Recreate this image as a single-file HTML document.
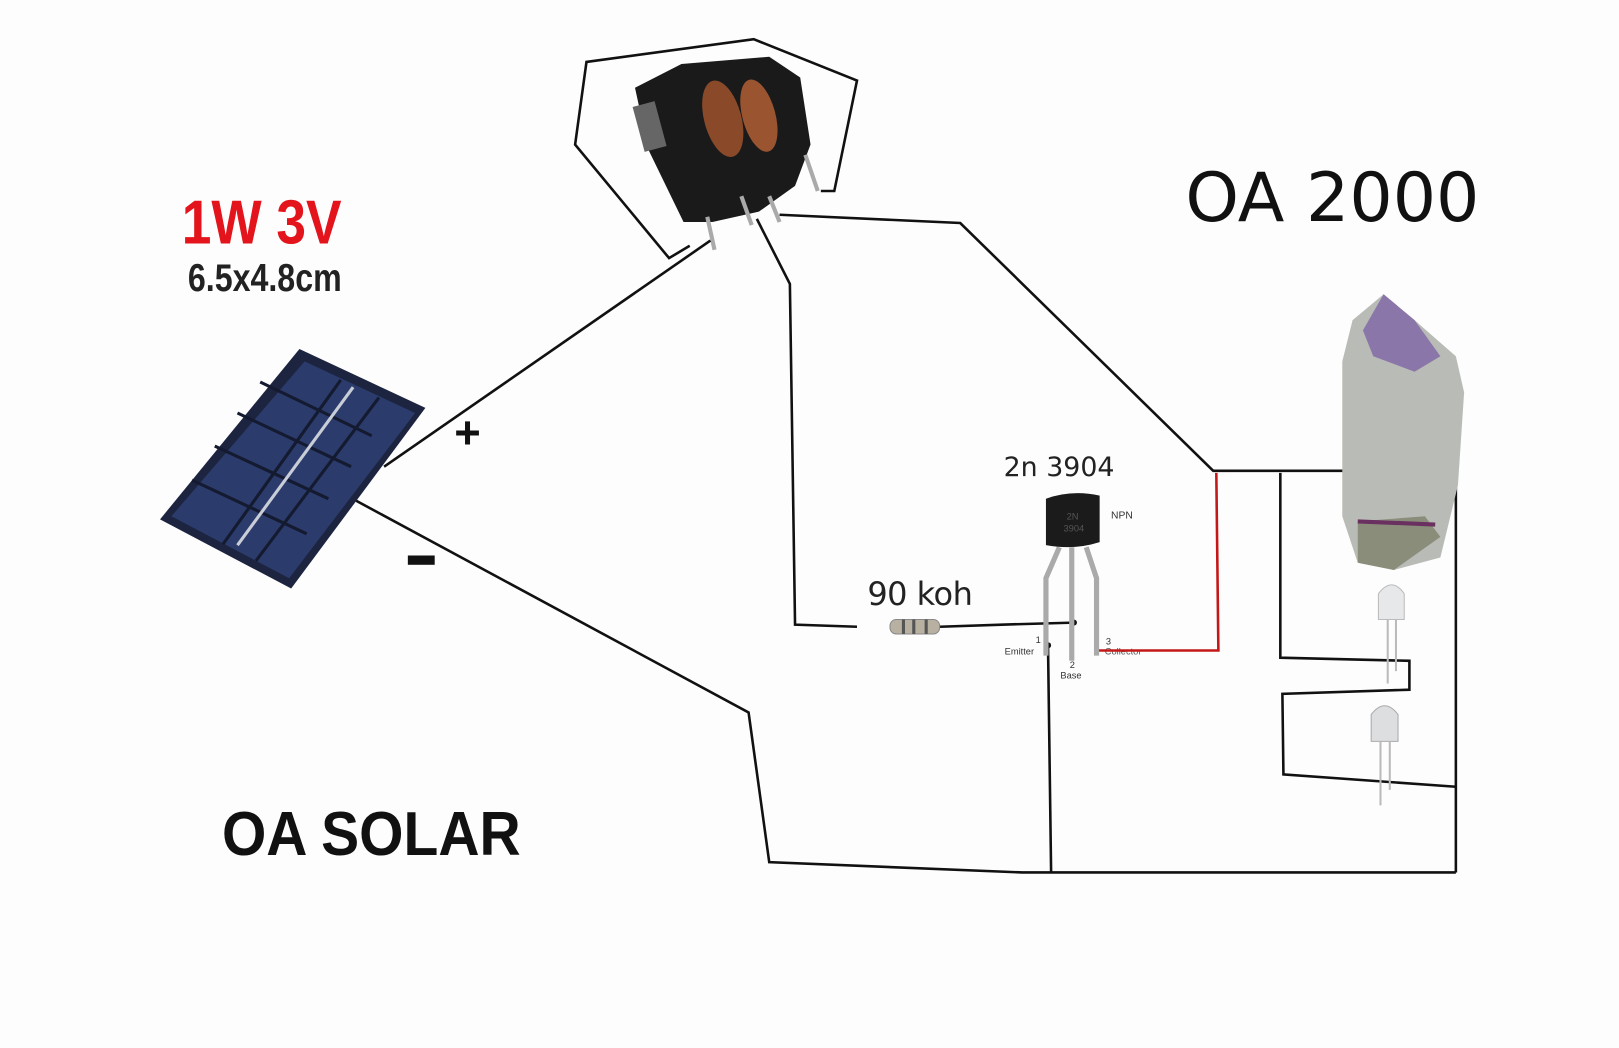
<!DOCTYPE html>
<html><head><meta charset="utf-8"><style>
html,body{margin:0;padding:0;background:#fdfdfd;}
svg{display:block}
</style></head><body>
<svg width="1619" height="1048" viewBox="0 0 1568 1015" preserveAspectRatio="none" xmlns="http://www.w3.org/2000/svg">
<rect width="1568" height="1015" fill="#fdfdfd"/>
<!-- texts -->
<text x="176" y="236" font-family="Liberation Sans Narrow, Liberation Sans, sans-serif" font-weight="bold" font-size="60" fill="#e3141b" transform="translate(176 236) scale(0.86 1) translate(-176 -236)">1W 3V</text>
<text x="182" y="282" font-family="Liberation Sans Narrow, Liberation Sans, sans-serif" font-size="38" font-weight="bold" fill="#222" transform="translate(182 282) scale(0.82 1) translate(-182 -282)">6.5x4.8cm</text>
<text x="440" y="434" font-family="Liberation Sans, sans-serif" font-weight="bold" font-size="44" fill="#111">+</text>
<rect x="395" y="538" width="26" height="9" fill="#111"/>
<text x="215" y="828" font-family="Liberation Sans, sans-serif" font-weight="bold" font-size="60" fill="#111" transform="translate(215 828) scale(0.92 1) translate(-215 -828)">OA SOLAR</text>
<text x="1148" y="214" font-family="DejaVu Sans, sans-serif" font-size="66" fill="#111">OA 2000</text>
<text x="972" y="461" font-family="DejaVu Sans, sans-serif" font-size="26" fill="#222">2n 3904</text>
<text x="840" y="586" font-family="DejaVu Sans, sans-serif" font-size="31" fill="#222" letter-spacing="-0.5">90 koh</text>
<text x="1076" y="502" font-family="Liberation Sans, sans-serif" font-size="10" fill="#333">NPN</text>
<text x="1003" y="623" font-family="Liberation Sans, sans-serif" font-size="9" fill="#333">1</text>
<text x="973" y="634" font-family="Liberation Sans, sans-serif" font-size="9" fill="#333">Emitter</text>
<text x="1036" y="647" font-family="Liberation Sans, sans-serif" font-size="9" fill="#333">2</text>
<text x="1027" y="657" font-family="Liberation Sans, sans-serif" font-size="9" fill="#333">Base</text>
<text x="1071" y="624" font-family="Liberation Sans, sans-serif" font-size="9" fill="#333">3</text>
<text x="1070" y="634" font-family="Liberation Sans, sans-serif" font-size="9" fill="#555">Collector</text>

<!-- solar panel -->
<polygon points="290,338 412,395 282,570 155,503" fill="#1c2440"/>
<polygon points="295,350 402,400 280,560 166,500" fill="#2b3b6b"/>
<g stroke="#141a30" stroke-width="3">
<line x1="330" y1="368" x2="216" y2="527"/><line x1="367" y1="385" x2="248" y2="543"/>
<line x1="252" y1="370" x2="360" y2="422"/><line x1="230" y1="400" x2="340" y2="452"/>
<line x1="208" y1="432" x2="318" y2="483"/><line x1="186" y1="465" x2="297" y2="517"/>
</g>
<line x1="342" y1="375" x2="230" y2="528" stroke="#c8cdd8" stroke-width="3"/>

<!-- transformer outline -->
<polyline points="668,238 648,250 557,140 568,60 730,38 830,78 808,185 795,185" fill="none" stroke="#111" stroke-width="2.5"/>
<!-- transformer body -->
<polygon points="615,85 660,62 745,55 775,75 785,140 770,180 735,205 690,215 662,215 628,145" fill="#1a1a1a"/>
<rect x="618" y="100" width="22" height="45" fill="#666" transform="rotate(-15 629 122)"/>
<ellipse cx="700" cy="115" rx="18" ry="38" fill="#8a4a2a" transform="rotate(-15 700 115)"/>
<ellipse cx="735" cy="112" rx="16" ry="36" fill="#9a5530" transform="rotate(-15 735 112)"/>
<g stroke="#aaa" stroke-width="4">
<line x1="685" y1="210" x2="692" y2="242"/><line x1="718" y1="190" x2="728" y2="218"/>
<line x1="745" y1="190" x2="755" y2="215"/><line x1="780" y1="150" x2="792" y2="185"/>
</g>

<!-- wires -->
<g fill="none" stroke="#111" stroke-width="2.5">
<polyline points="372,452 688,233"/>
<polyline points="345,485 725,690 745,835 990,845 1410,845"/>
<polyline points="755,208 930,216 1175,456 1410,456"/>
<polyline points="733,212 765,275 770,605 830,607"/>
<polyline points="910,607 970,605 1040,603"/>
<polyline points="1015,625 1018,845"/>
<polyline points="1240,458 1240,637 1365,640 1365,668 1242,672 1243,750 1410,762"/>
<polyline points="1410,456 1410,845"/>
</g>
<polyline points="1178,458 1180,630 1060,630" fill="none" stroke="#c41818" stroke-width="2.5"/>
<circle cx="1040" cy="603" r="3" fill="#111"/>
<circle cx="1015" cy="625" r="3" fill="#111"/>

<!-- resistor -->
<rect x="862" y="600" width="48" height="14" rx="6" fill="#b8b0a0" stroke="#888"/>
<g stroke="#555" stroke-width="3"><line x1="875" y1="600" x2="875" y2="614"/><line x1="885" y1="600" x2="885" y2="614"/><line x1="897" y1="600" x2="897" y2="614"/></g>

<!-- transistor -->
<g stroke="#aaa" stroke-width="5" fill="none">
<polyline points="1026,530 1013,560 1013,635"/>
<line x1="1038" y1="530" x2="1038" y2="640"/>
<polyline points="1052,530 1062,560 1062,635"/>
</g>
<path d="M1013,483 Q1038,474 1065,480 L1065,525 Q1040,533 1013,528 Z" fill="#1b1b1b"/>
<text x="1033" y="503" font-family="Liberation Sans, sans-serif" font-size="9" fill="#555">2N</text>
<text x="1030" y="515" font-family="Liberation Sans, sans-serif" font-size="9" fill="#555">3904</text>

<!-- crystal -->
<polygon points="1340,285 1370,310 1410,345 1418,380 1412,470 1395,540 1350,552 1315,545 1300,500 1300,350 1310,310" fill="#b9bcb6"/>
<polygon points="1340,285 1370,310 1395,345 1370,360 1330,345 1320,320" fill="#8a76a8"/>
<polygon points="1315,505 1380,500 1395,520 1350,552 1315,545" fill="#8a8d7a"/>
<line x1="1315" y1="505" x2="1390" y2="508" stroke="#6a3060" stroke-width="4"/>

<!-- LEDs -->
<g>
<path d="M1335,600 L1335,575 Q1348,558 1360,575 L1360,600 Z" fill="#e6e8ea" stroke="#bbb"/>
<line x1="1344" y1="600" x2="1344" y2="662" stroke="#bbb" stroke-width="2"/>
<line x1="1352" y1="600" x2="1352" y2="650" stroke="#bbb" stroke-width="2"/>
<path d="M1328,718 L1328,692 Q1341,675 1354,692 L1354,718 Z" fill="#dcdee0" stroke="#aaa"/>
<line x1="1337" y1="718" x2="1337" y2="780" stroke="#bbb" stroke-width="2"/>
<line x1="1346" y1="718" x2="1346" y2="765" stroke="#bbb" stroke-width="2"/>
</g>
</svg>
</body></html>
